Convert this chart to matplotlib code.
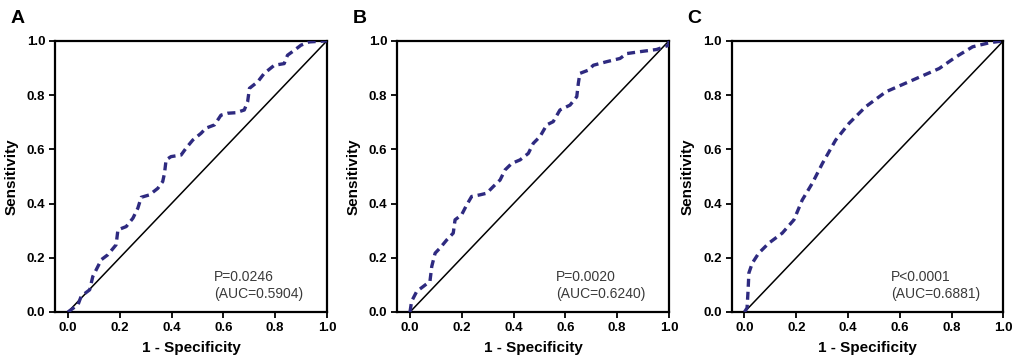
import numpy as np
import matplotlib
matplotlib.use("Agg")
import matplotlib.pyplot as plt

plt.rcParams['font.family'] = ['Liberation Sans', 'DejaVu Sans']

# ROC curve points (1 - specificity, sensitivity)
fpr_a = [0, 0.039, 0.051, 0.084, 0.096, 0.129, 0.154, 0.186, 0.193, 0.225, 0.251, 0.270,
         0.283, 0.315, 0.347, 0.366, 0.373, 0.379, 0.398, 0.437, 0.456, 0.482, 0.514,
         0.533, 0.566, 0.591, 0.617, 0.649, 0.681, 0.694, 0.701, 0.733, 0.758, 0.797,
         0.835, 0.848, 0.874, 0.900, 0.932, 1.0]
tpr_a = [0, 0.027, 0.058, 0.082, 0.131, 0.193, 0.211, 0.248, 0.303, 0.315, 0.346, 0.383,
         0.423, 0.432, 0.456, 0.481, 0.512, 0.561, 0.573, 0.579, 0.604, 0.634, 0.659,
         0.678, 0.690, 0.726, 0.733, 0.735, 0.745, 0.776, 0.825, 0.849, 0.880, 0.910,
         0.916, 0.947, 0.965, 0.984, 0.996, 1.0]

fpr_b = [0, 0.006, 0.026, 0.051, 0.077, 0.084, 0.097, 0.116, 0.142, 0.167, 0.174, 0.199,
         0.219, 0.238, 0.270, 0.296, 0.322, 0.348, 0.367, 0.393, 0.425, 0.457, 0.476,
         0.502, 0.528, 0.553, 0.579, 0.618, 0.644, 0.650, 0.656, 0.689, 0.708, 0.759,
         0.811, 0.837, 0.888, 0.952, 1.0, 1.0]
tpr_b = [0, 0.039, 0.076, 0.094, 0.113, 0.168, 0.217, 0.236, 0.266, 0.291, 0.340, 0.358,
         0.395, 0.426, 0.432, 0.438, 0.463, 0.487, 0.524, 0.548, 0.561, 0.585, 0.622,
         0.647, 0.690, 0.702, 0.745, 0.763, 0.794, 0.843, 0.880, 0.892, 0.910, 0.923,
         0.935, 0.953, 0.960, 0.968, 0.984, 1.0]

fpr_c = [0, 0.010, 0.014, 0.017, 0.030, 0.055, 0.094, 0.146, 0.191, 0.223, 0.262, 0.301,
         0.352, 0.404, 0.468, 0.546, 0.649, 0.752, 0.817, 0.881, 0.946, 1.0]
tpr_c = [0, 0.015, 0.082, 0.144, 0.180, 0.217, 0.254, 0.291, 0.340, 0.413, 0.475, 0.548,
         0.634, 0.696, 0.757, 0.812, 0.855, 0.898, 0.941, 0.978, 0.993, 1.0]

panels = ['A', 'B', 'C']
p_texts = ['P=0.0246', 'P=0.0020', 'P<0.0001']
auc_texts = ['(AUC=0.5904)', '(AUC=0.6240)', '(AUC=0.6881)']
ticks = [0.0, 0.2, 0.4, 0.6, 0.8, 1.0]

curves = [(fpr_a, tpr_a), (fpr_b, tpr_b), (fpr_c, tpr_c)]
lefts = [0.0536, 0.387, 0.713]
fig = plt.figure(figsize=(10.26, 3.63), dpi=100)

for i in range(3):
    ax = fig.add_axes([lefts[i], 0.1405, 0.265, 0.747])
    fx, ty = curves[i]
    ax.plot([0, 1], [0, 1], color='black', lw=1.1, zorder=2)
    ax.plot(fx, ty, color='#2e2a80', lw=2.4, ls=(0, (2.4, 1.5)), zorder=3)
    ax.set_xlim(-0.05, 1.0)
    ax.set_ylim(0, 1.0)
    ax.set_xticks(ticks)
    ax.set_yticks(ticks)
    ax.set_xticklabels(['%.1f' % t for t in ticks], fontweight='bold', fontsize=9.5)
    ax.set_yticklabels(['%.1f' % t for t in ticks], fontweight='bold', fontsize=9.5)
    for s in ax.spines.values():
        s.set_linewidth(1.6)
    ax.tick_params(direction='out', length=4, width=1.3, pad=3)
    ax.set_xlabel('1 - Specificity', fontweight='bold', fontsize=11, labelpad=5)
    ax.set_ylabel('Sensitivity', fontweight='bold', fontsize=11, labelpad=6)
    ax.text(0.565, 0.04, p_texts[i] + '\n' + auc_texts[i], fontsize=10,
            color='#3a3a3a', va='bottom', ha='left', linespacing=1.25)
    fig.text(lefts[i] - 0.043, 0.925, panels[i], fontweight='bold', fontsize=14,
             va='bottom')

fig.savefig('out.png', dpi=100)
